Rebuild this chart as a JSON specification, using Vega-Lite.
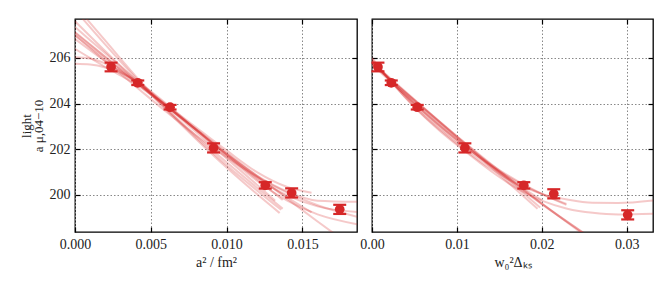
{
  "$schema": "https://vega.github.io/schema/vega-lite/v6.json",
  "padding": {"left": 19, "top": 17, "right": 15, "bottom": 5},
  "bounds": "flush",
  "spacing": 15,
  "config": {
    "font": "Liberation Serif",
    "view": {"stroke": "black", "strokeWidth": 1.3},
    "axis": {
      "labelFont": "Liberation Serif", "labelFontSize": 14, "labelColor": "#222",
      "titleFont": "Liberation Serif", "titleFontSize": 14, "titleFontWeight": "normal", "titleColor": "#222",
      "tickColor": "black", "tickSize": -5, "tickWidth": 1.2, "domain": false,
      "labelFlush": false, "labelOverlap": false, "labelPadding": 10,
      "gridColor": "#888", "gridDash": [1.5, 2], "gridWidth": 1
    }
  },
  "datasets": {
    "pointsL": [
      {"x": 0.00238, "y": 205.60, "lo": 205.41, "hi": 205.79},
      {"x": 0.00414, "y": 204.91, "lo": 204.81, "hi": 205.01},
      {"x": 0.00627, "y": 203.84, "lo": 203.74, "hi": 203.94},
      {"x": 0.00914, "y": 202.06, "lo": 201.86, "hi": 202.26},
      {"x": 0.01255, "y": 200.42, "lo": 200.28, "hi": 200.56},
      {"x": 0.01429, "y": 200.09, "lo": 199.89, "hi": 200.29},
      {"x": 0.01746, "y": 199.37, "lo": 199.17, "hi": 199.57}
    ],
    "pointsR": [
      {"x": 0.0007, "y": 205.60, "lo": 205.41, "hi": 205.79},
      {"x": 0.00227, "y": 204.91, "lo": 204.81, "hi": 205.01},
      {"x": 0.00533, "y": 203.84, "lo": 203.74, "hi": 203.94},
      {"x": 0.01094, "y": 202.06, "lo": 201.86, "hi": 202.26},
      {"x": 0.01788, "y": 200.42, "lo": 200.28, "hi": 200.56},
      {"x": 0.02141, "y": 200.05, "lo": 199.85, "hi": 200.25},
      {"x": 0.03012, "y": 199.13, "lo": 198.93, "hi": 199.33}
    ],
    "curvesL": [
      {"c": "c1", "x": 0, "y": 207.10}, {"c": "c1", "x": 0.002, "y": 206.03}, {"c": "c1", "x": 0.004, "y": 204.96}, {"c": "c1", "x": 0.006, "y": 203.91}, {"c": "c1", "x": 0.008, "y": 202.88}, {"c": "c1", "x": 0.010, "y": 201.85}, {"c": "c1", "x": 0.012, "y": 200.84}, {"c": "c1", "x": 0.014, "y": 199.83}, {"c": "c1", "x": 0.016, "y": 198.84}, {"c": "c1", "x": 0.0172, "y": 198.26},
      {"c": "c2", "x": 0, "y": 207.60}, {"c": "c2", "x": 0.002, "y": 206.29}, {"c": "c2", "x": 0.004, "y": 205.01}, {"c": "c2", "x": 0.006, "y": 203.78}, {"c": "c2", "x": 0.008, "y": 202.58}, {"c": "c2", "x": 0.010, "y": 201.43}, {"c": "c2", "x": 0.012, "y": 200.32}, {"c": "c2", "x": 0.0137, "y": 199.40},
      {"c": "c3", "x": 0, "y": 208.10}, {"c": "c3", "x": 0.002, "y": 206.58}, {"c": "c3", "x": 0.004, "y": 205.12}, {"c": "c3", "x": 0.006, "y": 203.74}, {"c": "c3", "x": 0.008, "y": 202.44}, {"c": "c3", "x": 0.010, "y": 201.20}, {"c": "c3", "x": 0.012, "y": 200.04}, {"c": "c3", "x": 0.0135, "y": 199.21},
      {"c": "c4", "x": 0, "y": 207.35}, {"c": "c4", "x": 0.002, "y": 206.20}, {"c": "c4", "x": 0.004, "y": 205.05}, {"c": "c4", "x": 0.006, "y": 203.90}, {"c": "c4", "x": 0.008, "y": 202.75}, {"c": "c4", "x": 0.010, "y": 201.60}, {"c": "c4", "x": 0.012, "y": 200.45}, {"c": "c4", "x": 0.0132, "y": 199.75},
      {"c": "c5", "x": 0, "y": 207.00}, {"c": "c5", "x": 0.002, "y": 205.85}, {"c": "c5", "x": 0.004, "y": 204.75}, {"c": "c5", "x": 0.006, "y": 203.65}, {"c": "c5", "x": 0.008, "y": 202.60}, {"c": "c5", "x": 0.010, "y": 201.65}, {"c": "c5", "x": 0.012, "y": 200.80}, {"c": "c5", "x": 0.014, "y": 200.10}, {"c": "c5", "x": 0.016, "y": 199.55}, {"c": "c5", "x": 0.0186, "y": 199.05},
      {"c": "c6", "x": 0, "y": 206.39}, {"c": "c6", "x": 0.002, "y": 205.60}, {"c": "c6", "x": 0.004, "y": 204.85}, {"c": "c6", "x": 0.006, "y": 203.90}, {"c": "c6", "x": 0.008, "y": 202.85}, {"c": "c6", "x": 0.010, "y": 201.80}, {"c": "c6", "x": 0.012, "y": 200.85}, {"c": "c6", "x": 0.014, "y": 200.15}, {"c": "c6", "x": 0.016, "y": 199.75}, {"c": "c6", "x": 0.0186, "y": 199.70},
      {"c": "c7", "x": 0, "y": 205.74}, {"c": "c7", "x": 0.001, "y": 205.71}, {"c": "c7", "x": 0.002, "y": 205.58}, {"c": "c7", "x": 0.003, "y": 205.33}, {"c": "c7", "x": 0.004, "y": 205.00}, {"c": "c7", "x": 0.006, "y": 204.00}, {"c": "c7", "x": 0.008, "y": 202.85}, {"c": "c7", "x": 0.010, "y": 201.70}, {"c": "c7", "x": 0.012, "y": 200.62}, {"c": "c7", "x": 0.014, "y": 199.75}, {"c": "c7", "x": 0.016, "y": 199.15}, {"c": "c7", "x": 0.0186, "y": 198.72},
      {"c": "c8", "x": 0, "y": 206.03}, {"c": "c8", "x": 0.001, "y": 205.97}, {"c": "c8", "x": 0.002, "y": 205.75}, {"c": "c8", "x": 0.003, "y": 205.40}, {"c": "c8", "x": 0.004, "y": 205.00}, {"c": "c8", "x": 0.006, "y": 203.95}, {"c": "c8", "x": 0.008, "y": 202.85}, {"c": "c8", "x": 0.010, "y": 201.75}, {"c": "c8", "x": 0.012, "y": 200.75}, {"c": "c8", "x": 0.014, "y": 199.98}, {"c": "c8", "x": 0.016, "y": 199.50}, {"c": "c8", "x": 0.0186, "y": 199.25},
      {"c": "c9", "x": 0, "y": 206.83}, {"c": "c9", "x": 0.002, "y": 205.85}, {"c": "c9", "x": 0.004, "y": 204.92}, {"c": "c9", "x": 0.006, "y": 203.95}, {"c": "c9", "x": 0.008, "y": 202.95}, {"c": "c9", "x": 0.010, "y": 201.95}, {"c": "c9", "x": 0.012, "y": 201.00}, {"c": "c9", "x": 0.014, "y": 200.35}, {"c": "c9", "x": 0.0156, "y": 200.10},
      {"c": "c10", "x": 0, "y": 206.98}, {"c": "c10", "x": 0.002, "y": 205.95}, {"c": "c10", "x": 0.004, "y": 204.93}, {"c": "c10", "x": 0.006, "y": 203.90}, {"c": "c10", "x": 0.008, "y": 202.85}, {"c": "c10", "x": 0.010, "y": 201.80}, {"c": "c10", "x": 0.012, "y": 200.80}, {"c": "c10", "x": 0.014, "y": 199.90}, {"c": "c10", "x": 0.0156, "y": 199.24},
      {"c": "c11", "x": 0, "y": 207.12}, {"c": "c11", "x": 0.004, "y": 204.98}, {"c": "c11", "x": 0.008, "y": 202.83}, {"c": "c11", "x": 0.012, "y": 200.69}, {"c": "c11", "x": 0.0137, "y": 199.78},
      {"c": "c12", "x": 0, "y": 208.30}, {"c": "c12", "x": 0.002, "y": 206.75}, {"c": "c12", "x": 0.004, "y": 205.20}, {"c": "c12", "x": 0.006, "y": 203.80}, {"c": "c12", "x": 0.008, "y": 202.50}, {"c": "c12", "x": 0.010, "y": 201.30}, {"c": "c12", "x": 0.012, "y": 200.20}, {"c": "c12", "x": 0.0136, "y": 199.35}
    ],
    "curvesR": [
      {"c": "r1", "x": 0, "y": 206.00}, {"c": "r1", "x": 0.0025, "y": 204.85}, {"c": "r1", "x": 0.005, "y": 203.85}, {"c": "r1", "x": 0.008, "y": 202.85}, {"c": "r1", "x": 0.011, "y": 201.95}, {"c": "r1", "x": 0.014, "y": 201.15}, {"c": "r1", "x": 0.017, "y": 200.50}, {"c": "r1", "x": 0.020, "y": 200.05}, {"c": "r1", "x": 0.023, "y": 199.80}, {"c": "r1", "x": 0.026, "y": 199.66}, {"c": "r1", "x": 0.029, "y": 199.65}, {"c": "r1", "x": 0.0331, "y": 199.76},
      {"c": "r2", "x": 0, "y": 205.95}, {"c": "r2", "x": 0.0025, "y": 204.85}, {"c": "r2", "x": 0.005, "y": 203.85}, {"c": "r2", "x": 0.008, "y": 202.80}, {"c": "r2", "x": 0.011, "y": 201.90}, {"c": "r2", "x": 0.014, "y": 201.05}, {"c": "r2", "x": 0.017, "y": 200.30}, {"c": "r2", "x": 0.020, "y": 199.75}, {"c": "r2", "x": 0.023, "y": 199.40}, {"c": "r2", "x": 0.026, "y": 199.22}, {"c": "r2", "x": 0.029, "y": 199.15}, {"c": "r2", "x": 0.0331, "y": 199.18},
      {"c": "r3", "x": 0, "y": 205.75}, {"c": "r3", "x": 0.005, "y": 204.13}, {"c": "r3", "x": 0.010, "y": 202.57}, {"c": "r3", "x": 0.015, "y": 201.07}, {"c": "r3", "x": 0.020, "y": 199.63}, {"c": "r3", "x": 0.026, "y": 197.98},
      {"c": "r4", "x": 0, "y": 205.80}, {"c": "r4", "x": 0.005, "y": 204.12}, {"c": "r4", "x": 0.010, "y": 202.53}, {"c": "r4", "x": 0.015, "y": 201.03}, {"c": "r4", "x": 0.020, "y": 199.62}, {"c": "r4", "x": 0.026, "y": 198.05},
      {"c": "r5", "x": 0, "y": 205.82}, {"c": "r5", "x": 0.0195, "y": 199.40},
      {"c": "r6", "x": 0, "y": 205.75}, {"c": "r6", "x": 0.0198, "y": 199.45},
      {"c": "r7", "x": 0, "y": 205.88}, {"c": "r7", "x": 0.003, "y": 204.68}, {"c": "r7", "x": 0.006, "y": 203.60}, {"c": "r7", "x": 0.009, "y": 202.63}, {"c": "r7", "x": 0.012, "y": 201.77}, {"c": "r7", "x": 0.015, "y": 201.03}, {"c": "r7", "x": 0.018, "y": 200.40}, {"c": "r7", "x": 0.0205, "y": 199.96}, {"c": "r7", "x": 0.0229, "y": 199.61},
      {"c": "r8", "x": 0, "y": 205.85}, {"c": "r8", "x": 0.003, "y": 204.70}, {"c": "r8", "x": 0.006, "y": 203.65}, {"c": "r8", "x": 0.009, "y": 202.70}, {"c": "r8", "x": 0.012, "y": 201.84}, {"c": "r8", "x": 0.015, "y": 201.09}, {"c": "r8", "x": 0.018, "y": 200.43}, {"c": "r8", "x": 0.0205, "y": 199.96}, {"c": "r8", "x": 0.0229, "y": 199.57},
      {"c": "r9", "x": 0, "y": 205.78}, {"c": "r9", "x": 0.003, "y": 204.70}, {"c": "r9", "x": 0.006, "y": 203.69}, {"c": "r9", "x": 0.009, "y": 202.73}, {"c": "r9", "x": 0.012, "y": 201.84}, {"c": "r9", "x": 0.015, "y": 201.02}, {"c": "r9", "x": 0.018, "y": 200.25}, {"c": "r9", "x": 0.020, "y": 199.78},
      {"c": "r10", "x": 0, "y": 205.70}, {"c": "r10", "x": 0.005, "y": 204.03}, {"c": "r10", "x": 0.010, "y": 202.45}, {"c": "r10", "x": 0.015, "y": 200.98}, {"c": "r10", "x": 0.020, "y": 199.60}, {"c": "r10", "x": 0.0255, "y": 198.20}
    ]
  },
  "hconcat": [
    {
      "width": 282, "height": 213,
      "resolve": {"axis": {"x": "independent", "y": "independent"}},
      "layer": [
        {
          "encoding": {
            "x": {"field": "x", "type": "quantitative",
                  "scale": {"domain": [0, 0.0186], "nice": false, "zero": false},
                  "axis": {"orient": "bottom", "title": "a² / fm²", "values": [0, 0.005, 0.01, 0.015], "format": ".3f", "grid": true}},
            "y": {"field": "y", "type": "quantitative",
                  "scale": {"domain": [198.38, 207.7], "nice": false, "zero": false},
                  "axis": {"orient": "left", "title": ["light", "a  μ,04−10"], "titleFontSize": 13, "titleLineHeight": 12, "values": [200, 202, 204, 206], "grid": true, "titlePadding": 4}}
          },
          "layer": [
            {"data": {"name": "curvesL"}, "mark": {"type": "line", "clip": true, "interpolate": "monotone", "stroke": "#d62728", "strokeOpacity": 0.25, "strokeWidth": 2},
             "encoding": {"detail": {"field": "c", "type": "nominal"}}},
            {"data": {"name": "pointsL"}, "mark": {"type": "rule", "color": "#d62728", "strokeWidth": 2.5},
             "encoding": {"y": {"field": "lo", "type": "quantitative"}, "y2": {"field": "hi"}}},
            {"data": {"name": "pointsL"}, "mark": {"type": "tick", "orient": "horizontal", "color": "#d62728", "size": 13, "thickness": 2.2, "opacity": 1},
             "encoding": {"y": {"field": "lo", "type": "quantitative"}}},
            {"data": {"name": "pointsL"}, "mark": {"type": "tick", "orient": "horizontal", "color": "#d62728", "size": 13, "thickness": 2.2, "opacity": 1},
             "encoding": {"y": {"field": "hi", "type": "quantitative"}}},
            {"data": {"name": "pointsL"}, "mark": {"type": "point", "shape": "circle", "filled": true, "color": "#d62728", "size": 95, "opacity": 1}}
          ]
        },
        {
          "data": {"name": "pointsL"},
          "mark": {"type": "point", "opacity": 0},
          "encoding": {
            "x": {"field": "x", "type": "quantitative", "axis": {"orient": "top", "labels": false, "title": null, "grid": false, "values": [0, 0.005, 0.01, 0.015]}},
            "y": {"field": "y", "type": "quantitative", "axis": {"orient": "right", "labels": false, "title": null, "grid": false, "values": [200, 202, 204, 206]}}
          }
        }
      ]
    },
    {
      "width": 281, "height": 213,
      "resolve": {"axis": {"x": "independent", "y": "independent"}},
      "layer": [
        {
          "encoding": {
            "x": {"field": "x", "type": "quantitative",
                  "scale": {"domain": [0, 0.0331], "nice": false, "zero": false},
                  "axis": {"orient": "bottom", "title": "w₀²Δₖₛ", "values": [0, 0.01, 0.02, 0.03], "format": ".2f", "grid": true}},
            "y": {"field": "y", "type": "quantitative",
                  "scale": {"domain": [198.38, 207.7], "nice": false, "zero": false},
                  "axis": {"orient": "left", "title": null, "labels": false, "values": [200, 202, 204, 206], "grid": true}}
          },
          "layer": [
            {"data": {"name": "curvesR"}, "mark": {"type": "line", "clip": true, "interpolate": "monotone", "stroke": "#d62728", "strokeOpacity": 0.25, "strokeWidth": 2},
             "encoding": {"detail": {"field": "c", "type": "nominal"}}},
            {"data": {"name": "pointsR"}, "mark": {"type": "rule", "color": "#d62728", "strokeWidth": 2.5},
             "encoding": {"y": {"field": "lo", "type": "quantitative"}, "y2": {"field": "hi"}}},
            {"data": {"name": "pointsR"}, "mark": {"type": "tick", "orient": "horizontal", "color": "#d62728", "size": 13, "thickness": 2.2, "opacity": 1},
             "encoding": {"y": {"field": "lo", "type": "quantitative"}}},
            {"data": {"name": "pointsR"}, "mark": {"type": "tick", "orient": "horizontal", "color": "#d62728", "size": 13, "thickness": 2.2, "opacity": 1},
             "encoding": {"y": {"field": "hi", "type": "quantitative"}}},
            {"data": {"name": "pointsR"}, "mark": {"type": "point", "shape": "circle", "filled": true, "color": "#d62728", "size": 95, "opacity": 1}}
          ]
        },
        {
          "data": {"name": "pointsR"},
          "mark": {"type": "point", "opacity": 0},
          "encoding": {
            "x": {"field": "x", "type": "quantitative", "axis": {"orient": "top", "labels": false, "title": null, "grid": false, "values": [0, 0.01, 0.02, 0.03]}},
            "y": {"field": "y", "type": "quantitative", "axis": {"orient": "right", "labels": false, "title": null, "grid": false, "values": [200, 202, 204, 206]}}
          }
        }
      ]
    }
  ]
}
